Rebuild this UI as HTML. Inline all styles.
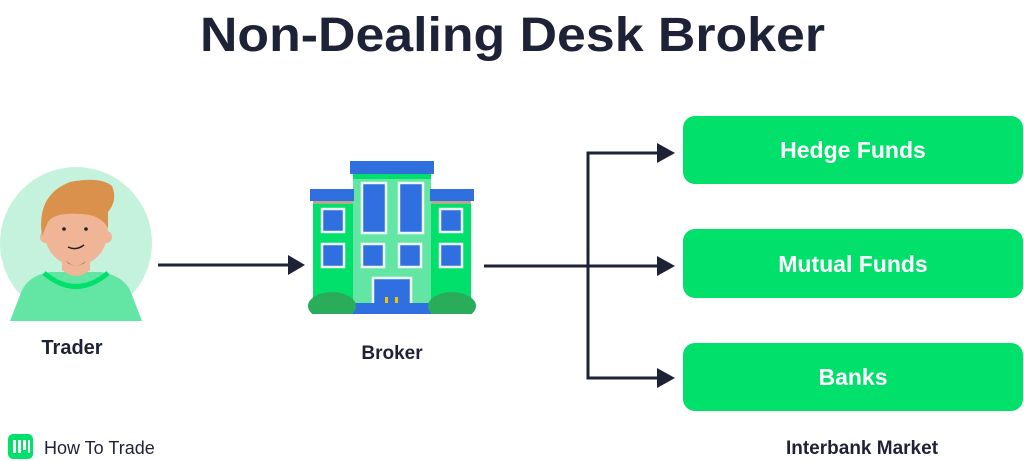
<!DOCTYPE html>
<html><head><style>body{margin:0;background:#fff}svg{display:block}</style></head><body>
<svg width="1024" height="461" viewBox="0 0 1024 461" xmlns="http://www.w3.org/2000/svg" font-family="Liberation Sans, sans-serif">
<text x="200" y="51" font-size="48" font-weight="bold" fill="#1e2236" textLength="625" lengthAdjust="spacingAndGlyphs">Non-Dealing Desk Broker</text>
<defs><clipPath id="c"><rect x="0" y="150" width="160" height="171"/></clipPath></defs>
<g clip-path="url(#c)">
<circle cx="76" cy="243" r="76" fill="#c5f2dc"/>
<path d="M10 321 L22 290 Q30 275 50 272 L100 272 Q122 275 130 290 L142 321 Z" fill="#63e6a4"/>
<path d="M44 273 Q76 300 108 273" stroke="#00e06a" stroke-width="5" fill="none"/>
<path d="M62 255 L90 255 L90 270 Q76 282 62 270Z" fill="#f0b496"/>
<ellipse cx="76" cy="230" rx="32" ry="36" fill="#f0b496"/>
<circle cx="46" cy="237" r="6" fill="#f0b496"/><circle cx="106" cy="237" r="6" fill="#f0b496"/>
<path d="M42 236 Q36 195 70 182 Q100 176 112 186 Q118 200 108 212 L108 228 Q100 214 80 214 Q55 212 48 222 Z" fill="#d9914c"/>
<circle cx="64" cy="229" r="1.8" fill="#222"/><circle cx="86" cy="229" r="1.8" fill="#222"/>
<path d="M68 247 Q76 251 84 245" stroke="#222" stroke-width="1.5" fill="none"/>
<path d="M66 261 Q76 270 86 261 L84 263 Q76 268 68 263Z" fill="#111"/>
</g>
<text x="72" y="354" text-anchor="middle" font-size="20" fill="#1e2236" font-weight="bold">Trader</text>
<rect x="350" y="161" width="84" height="13" fill="#2f6fe0"/>
<rect x="353" y="174" width="78" height="140" fill="#63e6a4"/>
<rect x="353" y="174" width="78" height="5" fill="#00e06a"/>
<rect x="310" y="189" width="44" height="12" fill="#2f6fe0"/>
<rect x="430" y="189" width="44" height="12" fill="#2f6fe0"/>
<rect x="313" y="201" width="40" height="113" fill="#00e06a"/>
<rect x="431" y="201" width="40" height="113" fill="#00e06a"/>
<rect x="313" y="201" width="40" height="3" fill="#b8a88a"/><rect x="431" y="201" width="40" height="3" fill="#b8a88a"/>
<g fill="#2f6fe0" stroke="#eef4f8" stroke-width="2.5">
<rect x="362" y="183" width="24" height="50"/><rect x="399" y="183" width="24" height="50"/>
<rect x="322" y="209" width="22" height="23"/><rect x="440" y="209" width="22" height="23"/>
<rect x="322" y="244" width="22" height="23"/><rect x="440" y="244" width="22" height="23"/>
<rect x="362" y="244" width="22" height="23"/><rect x="399" y="244" width="22" height="23"/>
<rect x="373" y="278" width="38" height="37"/>
</g>
<rect x="385" y="297" width="3" height="9" fill="#f2c200"/><rect x="395" y="297" width="3" height="9" fill="#f2c200"/>
<rect x="353" y="303" width="78" height="12" fill="#2f6fe0"/>
<ellipse cx="332" cy="306" rx="24" ry="14" fill="#2aad5a"/>
<ellipse cx="452" cy="306" rx="24" ry="14" fill="#2aad5a"/>
<rect x="300" y="314" width="185" height="10" fill="#fff"/>
<text x="392" y="359" text-anchor="middle" font-size="19" fill="#1e2236" font-weight="bold">Broker</text>
<g stroke="#1e2236" stroke-width="3" fill="none">
<line x1="158" y1="265" x2="290" y2="265"/>
<line x1="484" y1="266" x2="660" y2="266"/>
<path d="M660 153 L588 153 L588 378 L660 378"/>
</g>
<g fill="#1e2236">
<polygon points="305,265 288,255 288,275"/>
<polygon points="675,153 657,143 657,163"/>
<polygon points="675,266 657,256 657,276"/>
<polygon points="675,378 657,368 657,388"/>
</g>
<g fill="#00e06a">
<rect x="683" y="116" width="340" height="68" rx="12"/>
<rect x="683" y="229" width="340" height="69" rx="12"/>
<rect x="683" y="343" width="340" height="68" rx="12"/>
</g>
<g fill="#fff" font-size="23" text-anchor="middle" font-weight="bold">
<text x="853" y="158">Hedge Funds</text>
<text x="853" y="272">Mutual Funds</text>
<text x="853" y="385">Banks</text>
</g>
<text x="862" y="454" text-anchor="middle" font-size="19" fill="#1e2236" font-weight="bold">Interbank Market</text>
<rect x="8" y="434" width="25" height="25" rx="5" fill="#00e06a"/>
<g fill="#fff"><rect x="13" y="440" width="3" height="13"/><rect x="18" y="440" width="3" height="13"/><rect x="23" y="440" width="3" height="10"/><rect x="28" y="440" width="2" height="13"/></g>
<text x="44" y="454" font-size="18" fill="#1e2236">How To Trade</text>
</svg>
</body></html>
